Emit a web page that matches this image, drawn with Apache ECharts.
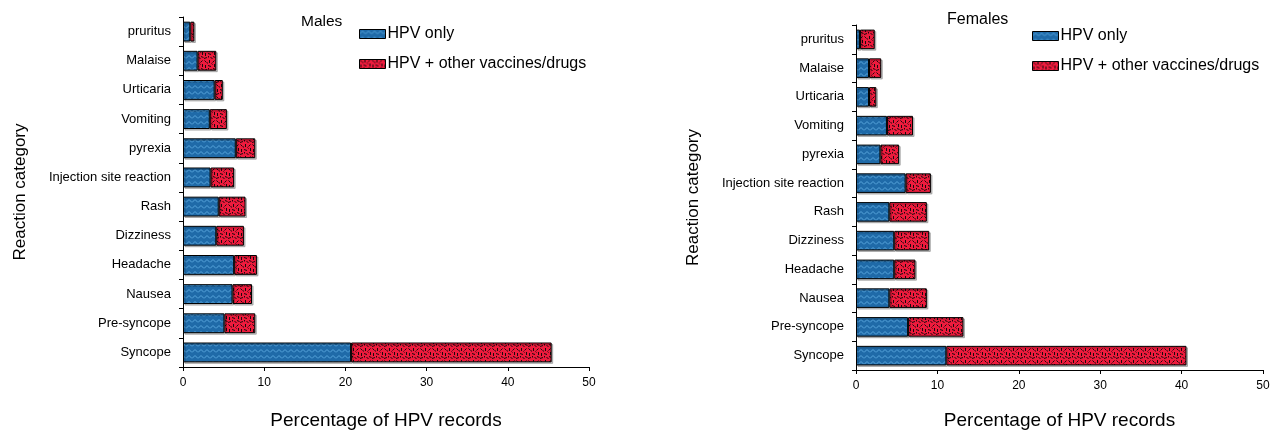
<!DOCTYPE html>
<html>
<head>
<meta charset="utf-8">
<script src="https://cdn.jsdelivr.net/npm/echarts@6/dist/echarts.min.js"></script>
<style>
html,body{margin:0;padding:0;background:#fff;}
#chart{width:1271px;height:430px;}
</style>
</head>
<body>
<div id="chart"></div>
<script>
// ---- data (bottom to top) ----
var categories = ['Syncope','Pre-syncope','Nausea','Headache','Dizziness','Rash','Injection site reaction','pyrexia','Vomiting','Urticaria','Malaise','pruritus'];
var seriesNames = ['HPV only','HPV + other vaccines/drugs'];
var malesHpvOnly   = [20.7, 5.1, 6.1, 6.3, 4.1, 4.4, 3.4, 6.5, 3.3, 3.9, 1.8, 0.9];
var malesHpvOther  = [24.7, 3.8, 2.4, 2.8, 3.4, 3.3, 2.9, 2.4, 2.1, 1.0, 2.3, 0.5];
var femalesHpvOnly  = [11.1, 6.4, 4.1, 4.7, 4.7, 4.1, 6.1, 3.0, 3.8, 1.6, 1.6, 0.5];
var femalesHpvOther = [29.5, 6.8, 4.6, 2.6, 4.3, 4.6, 3.1, 2.3, 3.2, 0.9, 1.5, 1.8];
var xTicks = [0, 10, 20, 30, 40, 50];
var panelTitles = ['Males', 'Females'];
var xAxisTitle = 'Percentage of HPV records';
var yAxisTitle = 'Reaction category';

// ---- patterns ----
function zigzagTile() {
  var c = document.createElement('canvas');
  c.width = 6; c.height = 6;
  var g = c.getContext('2d');
  g.fillStyle = '#1f6aa8';
  g.fillRect(0, 0, 6, 6);
  g.strokeStyle = '#5aa6dc';
  g.lineWidth = 1;
  g.beginPath();
  g.moveTo(0, 4.5); g.lineTo(3, 1.5); g.lineTo(6, 4.5);
  g.stroke();
  return c;
}
function dashTile() {
  var c = document.createElement('canvas');
  c.width = 12; c.height = 12;
  var g = c.getContext('2d');
  g.fillStyle = '#ee1b3d';
  g.fillRect(0, 0, 12, 12);
  g.strokeStyle = '#1a0a0c';
  g.lineWidth = 1;
  var segs = [[0.5,0.5,2.5,2.5],[5.5,0,5.5,3],[8.5,2.5,10.5,0.5],[1.5,5,1.5,8],[4,5.5,7,6.5],[10.5,4,10.5,7],[0,10.5,3,9.5],[6.5,9,8.5,11],[3.5,2.5,3.5,3.5],[9,8.5,11.5,9.5],[7.5,3.5,8.5,4.5],[4.5,8,4.5,9.5]];
  g.beginPath();
  segs.forEach(function (s) { g.moveTo(s[0], s[1]); g.lineTo(s[2], s[3]); });
  g.stroke();
  return c;
}
var bluePattern = { image: zigzagTile(), repeat: 'repeat' };
var redPattern = { image: dashTile(), repeat: 'repeat' };

var grids = [
  { left: 183, top: 17, width: 406, height: 350, containLabel: false, outerBoundsMode: 'none' },
  { left: 856, top: 25, width: 407, height: 345, containLabel: false, outerBoundsMode: 'none' }
];
var txt = '#000';
var font = 'Liberation Sans, Arial, sans-serif';

function xAxis(i, gap) {
  return {
    type: 'value', gridIndex: i, min: xTicks[0], max: xTicks[xTicks.length - 1], interval: 10,
    name: xAxisTitle, nameLocation: 'middle', nameGap: gap,
    nameTextStyle: { color: txt, fontSize: 19, fontFamily: font },
    axisLine: { show: true, lineStyle: { color: '#000', width: 1 } },
    axisTick: { show: true, length: 4, lineStyle: { color: '#000' } },
    axisLabel: { color: txt, fontSize: 12, fontFamily: font, margin: 10 },
    splitLine: { show: false }
  };
}
function yAxis(i) {
  return {
    type: 'category', gridIndex: i, data: categories,
    name: yAxisTitle, nameLocation: 'middle', nameGap: 154,
    nameTextStyle: { color: txt, fontSize: 17, fontFamily: font },
    axisLine: { show: true, lineStyle: { color: '#000', width: 1 } },
    axisTick: { show: true, length: 4, lineStyle: { color: '#000' } },
    axisLabel: { color: txt, fontSize: 13, fontFamily: font, margin: 12 },
    splitLine: { show: false }
  };
}
function barSeries(name, data, idx, stack, pattern) {
  return {
    type: 'bar', name: name, data: data, xAxisIndex: idx, yAxisIndex: idx, stack: stack,
    barWidth: '68%',
    itemStyle: {
      color: pattern, borderColor: '#000', borderWidth: 1,
      shadowColor: 'rgba(0,0,0,0.25)', shadowOffsetX: 1.5, shadowOffsetY: 1.5, shadowBlur: 0
    },
    emphasis: { disabled: true },
    animation: false
  };
}
function legend(left, top) {
  return {
    orient: 'vertical', left: left, top: top, data: seriesNames,
    icon: 'rect', itemWidth: 26, itemHeight: 9, itemGap: 14,
    itemStyle: { shadowColor: 'rgba(0,0,0,0)', borderWidth: 1 },
    textStyle: { color: txt, fontSize: 16, fontFamily: font, padding: [0, 0, 0, -3] },
    selectedMode: false
  };
}

var option = {
  backgroundColor: '#fff',
  animation: false,
  title: [
    { text: panelTitles[0], left: 301, top: 14, textStyle: { color: txt, fontSize: 15.5, fontWeight: 'normal', fontFamily: font }, padding: 0 },
    { text: panelTitles[1], left: 947, top: 12, textStyle: { color: txt, fontSize: 16, fontWeight: 'normal', fontFamily: font }, padding: 0 }
  ],
  legend: [legend(354, 21), legend(1027, 23)],
  grid: grids,
  xAxis: [xAxis(0, 44), xAxis(1, 41)],
  yAxis: [yAxis(0), yAxis(1)],
  series: [
    barSeries(seriesNames[0], malesHpvOnly, 0, 'm', bluePattern),
    barSeries(seriesNames[1], malesHpvOther, 0, 'm', redPattern),
    barSeries(seriesNames[0], femalesHpvOnly, 1, 'f', bluePattern),
    barSeries(seriesNames[1], femalesHpvOther, 1, 'f', redPattern)
  ]
};
var chart = echarts.init(document.getElementById('chart'), null, { renderer: 'canvas' });
chart.setOption(option);
</script>
</body>
</html>
